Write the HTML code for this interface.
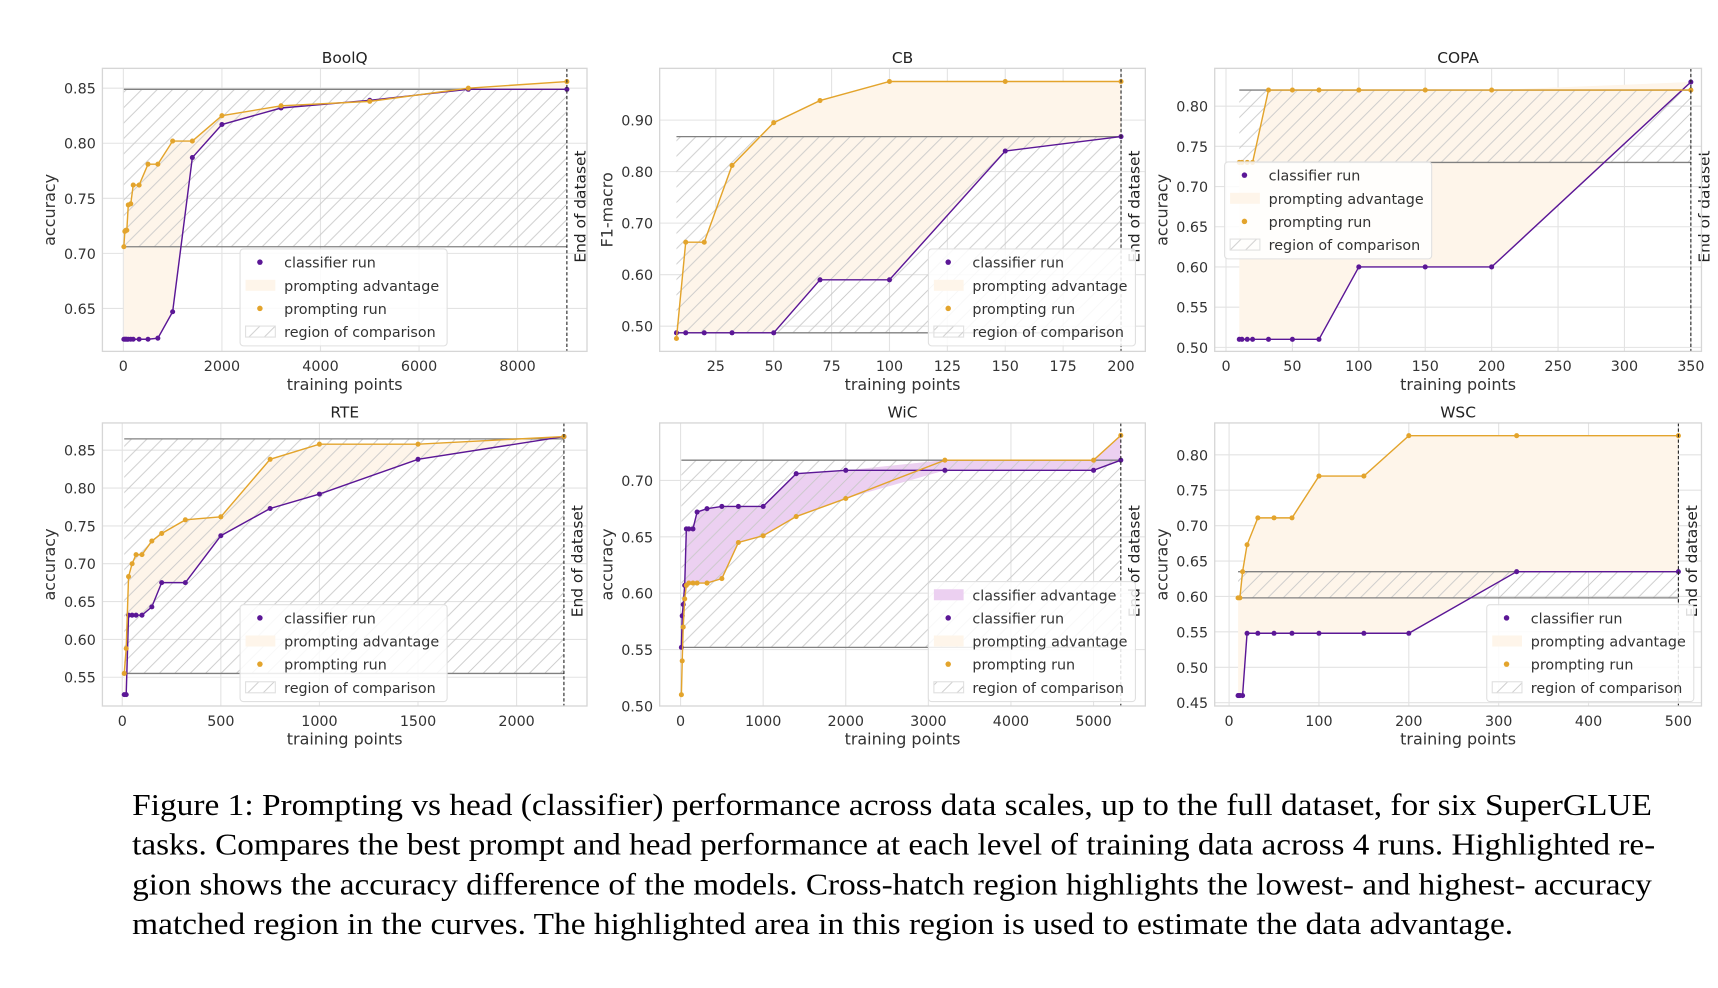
<!DOCTYPE html>
<html><head><meta charset="utf-8">
<style>
html,body{margin:0;padding:0;background:#fff;}
svg{display:block;}
text{font-family:"DejaVu Sans","Liberation Sans",sans-serif;}
.cap{font-family:"Liberation Serif",serif;font-size:28px;fill:#000;}
</style></head>
<body>
<svg id="fig" width="1718" height="988" viewBox="0 0 1560 897" xmlns="http://www.w3.org/2000/svg">
<defs>
<pattern id="hatch" patternUnits="userSpaceOnUse" width="14" height="14">
<path d="M-1,15 L15,-1 M-8,8 L8,-8 M6,22 L22,6" stroke="#c8c8c8" stroke-width="0.8"/>
</pattern>
</defs>
<g id="panels"></g>
<g>
<text class="cap" x="120" y="740" textLength="1380" lengthAdjust="spacingAndGlyphs">Figure 1: Prompting vs head (classifier) performance across data scales, up to the full dataset, for six SuperGLUE</text>
<text class="cap" x="120" y="776" textLength="1383" lengthAdjust="spacingAndGlyphs">tasks. Compares the best prompt and head performance at each level of training data across 4 runs. Highlighted re-</text>
<text class="cap" x="120" y="812" textLength="1380" lengthAdjust="spacingAndGlyphs">gion shows the accuracy difference of the models. Cross-hatch region highlights the lowest- and highest- accuracy</text>
<text class="cap" x="120" y="848" textLength="1254" lengthAdjust="spacingAndGlyphs">matched region in the curves. The highlighted area in this region is used to estimate the data advantage.</text>
</g>
</svg>
<script>
// ---- data ----
const boolqX = [10,30,50,70,100,150,200,320,500,700,1000,1400,2000,3200,5000,7000,9000];
const boolqClassifier = [0.622,0.622,0.622,0.622,0.622,0.622,0.622,0.622,0.622,0.623,0.647,0.787,0.817,0.832,0.839,0.849,0.849];
const boolqPrompt = [0.706,0.720,0.721,0.721,0.744,0.745,0.762,0.762,0.781,0.781,0.802,0.802,0.825,0.834,0.838,0.850,0.856];
const boolqXTicks = [0,2000,4000,6000,8000];
const boolqYTicks = [0.65,0.70,0.75,0.80,0.85];

const cbX = [8,12,20,32,50,70,100,150,200];
const cbClassifier = [0.487,0.487,0.487,0.487,0.487,0.590,0.590,0.840,0.868];
const cbPrompt = [0.476,0.663,0.663,0.812,0.895,0.938,0.975,0.975,0.975];
const cbXTicks = [25,50,75,100,125,150,175,200];
const cbYTicks = [0.50,0.60,0.70,0.80,0.90];

const copaX = [10,12,16,20,32,50,70,100,150,200,350];
const copaClassifier = [0.51,0.51,0.51,0.51,0.51,0.51,0.51,0.60,0.60,0.60,0.83];
const copaPrompt = [0.73,0.73,0.73,0.73,0.82,0.82,0.82,0.82,0.82,0.82,0.82];
const copaXTicks = [0,50,100,150,200,250,300,350];
const copaYTicks = [0.50,0.55,0.60,0.65,0.70,0.75,0.80];

const rteX = [10,20,32,50,70,100,150,200,320,500,750,1000,1500,2240];
const rteClassifier = [0.527,0.527,0.632,0.632,0.632,0.632,0.643,0.675,0.675,0.737,0.773,0.792,0.838,0.868];
const rtePrompt = [0.555,0.588,0.683,0.700,0.712,0.712,0.730,0.740,0.758,0.762,0.838,0.858,0.858,0.868];
const rteXTicks = [0,500,1000,1500,2000];
const rteYTicks = [0.55,0.60,0.65,0.70,0.75,0.80,0.85];

const wicX = [10,20,32,50,70,100,150,200,320,500,700,1000,1400,2000,3200,5000,5330];
const wicClassifier = [0.552,0.580,0.590,0.607,0.657,0.657,0.657,0.672,0.675,0.677,0.677,0.677,0.706,0.709,0.709,0.709,0.718];
const wicPrompt = [0.510,0.540,0.570,0.595,0.607,0.609,0.609,0.609,0.609,0.613,0.645,0.651,0.668,0.684,0.718,0.718,0.740];
const wicXTicks = [0,1000,2000,3000,4000,5000];
const wicYTicks = [0.50,0.55,0.60,0.65,0.70];

const wscX = [10,12,15,20,32,50,70,100,150,200,320,500];
const wscClassifier = [0.46,0.46,0.46,0.548,0.548,0.548,0.548,0.548,0.548,0.548,0.635,0.635];
const wscPrompt = [0.598,0.598,0.635,0.673,0.711,0.711,0.711,0.770,0.770,0.827,0.827,0.827];
const wscXTicks = [0,100,200,300,400,500];
const wscYTicks = [0.45,0.50,0.55,0.60,0.65,0.70,0.75,0.80];

const PURPLE="#5b1796", GOLD="#e3a42c", PFILL="#fef5ea", CFILL="#ecd0f1";
const NS="http://www.w3.org/2000/svg";
const root=document.getElementById('panels');
function mk(tag,attrs,parent){const e=document.createElementNS(NS,tag);for(const k in attrs)e.setAttribute(k,attrs[k]);(parent||root).appendChild(e);return e;}
function fmtY(v){return v.toFixed(2);}

const panels=[
 {name:'boolq',title:'BoolQ',box:[93,62,533,319],xr:[-425,9408],yr:[0.611,0.868],x:boolqX,c:boolqClassifier,p:boolqPrompt,xt:boolqXTicks,yt:boolqYTicks,yl:'accuracy',lo:0.706,hi:0.849,end:9000,leg:[218,226],ca:false},
 {name:'cb',title:'CB',box:[599,62,1040,319],xr:[0.75,210.5],yr:[0.451,1.0005],x:cbX,c:cbClassifier,p:cbPrompt,xt:cbXTicks,yt:cbYTicks,yl:'F1-macro',lo:0.487,hi:0.868,end:200,leg:[843,226],ca:false},
 {name:'copa',title:'COPA',box:[1103,62,1545,319],xr:[-8.5,358],yr:[0.495,0.847],x:copaX,c:copaClassifier,p:copaPrompt,xt:copaXTicks,yt:copaYTicks,yl:'accuracy',lo:0.73,hi:0.82,end:350,leg:[1112,147],ca:false},
 {name:'rte',title:'RTE',box:[93,384,533,641],xr:[-100.6,2357],yr:[0.512,0.886],x:rteX,c:rteClassifier,p:rtePrompt,xt:rteXTicks,yt:rteYTicks,yl:'accuracy',lo:0.555,hi:0.865,end:2240,leg:[218,549],ca:false},
 {name:'wic',title:'WiC',box:[599,384,1040,641],xr:[-253,5627],yr:[0.5,0.751],x:wicX,c:wicClassifier,p:wicPrompt,xt:wicXTicks,yt:wicYTicks,yl:'accuracy',lo:0.552,hi:0.718,end:5330,leg:[843,528],ca:true},
 {name:'wsc',title:'WSC',box:[1103,384,1545,641],xr:[-16,525.7],yr:[0.4453,0.845],x:wscX,c:wscClassifier,p:wscPrompt,xt:wscXTicks,yt:wscYTicks,yl:'accuracy',lo:0.598,hi:0.635,end:500,leg:[1350,549],ca:false}
];

panels.forEach(P=>{
 const [L,T,R,B]=P.box;
 const sx=v=>L+(v-P.xr[0])/(P.xr[1]-P.xr[0])*(R-L);
 const sy=v=>B-(v-P.yr[0])/(P.yr[1]-P.yr[0])*(B-T);
 const g=mk('g',{});
 
 
 const cp=mk('clipPath',{id:'clip-'+P.name},g);mk('rect',{x:L,y:T,width:R-L,height:B-T},cp);
 P.xt.forEach(t=>{mk('line',{x1:sx(t),x2:sx(t),y1:T,y2:B,stroke:'#e3e3e3','stroke-width':1},g);
  const tx=mk('text',{x:sx(t),y:B+18,'text-anchor':'middle','font-size':13,fill:'#333'},g);tx.textContent=t;
  
  });
 P.yt.forEach(t=>{mk('line',{x1:L,x2:R,y1:sy(t),y2:sy(t),stroke:'#e3e3e3','stroke-width':1},g);
  const tx=mk('text',{x:L-6,y:sy(t)+5,'text-anchor':'end','font-size':13,fill:'#333'},g);tx.textContent=fmtY(t);
  
  });
 const cg=mk('g',{'clip-path':'url(#clip-'+P.name+')'},g);
 const n=P.x.length;
 let up=[],lo=[],cup=[];
 for(let i=0;i<n;i++){up.push(sx(P.x[i])+','+sy(Math.max(P.p[i],P.c[i])));lo.push(sx(P.x[i])+','+sy(P.c[i]));cup.push(sx(P.x[i])+','+sy(Math.max(P.p[i],P.c[i])));}
 const pf=mk('polygon',{points:up.concat(lo.slice().reverse()).join(' '),fill:PFILL},cg);
 
 
 if(P.ca){const pl=[];for(let i=0;i<n;i++)pl.push(sx(P.x[i])+','+sy(Math.min(P.p[i],P.c[i])));
  const cf=mk('polygon',{points:cup.concat(pl.reverse()).join(' '),fill:CFILL},cg);
  
  }
 const rg=mk('rect',{x:sx(P.x[0]),y:sy(P.hi),width:sx(P.end)-sx(P.x[0]),height:sy(P.lo)-sy(P.hi),fill:'url(#hatch)'},cg);
 
 
 [P.lo,P.hi].forEach(v=>mk('line',{x1:sx(P.x[0]),x2:sx(P.end),y1:sy(v),y2:sy(v),stroke:'#808080','stroke-width':1.2},cg));
 [[P.c,PURPLE,'classifier'],[P.p,GOLD,'prompting']].forEach(([ys,col,nm])=>{
  const pts=ys.map((v,i)=>sx(P.x[i])+','+sy(v)).join(' ');
  const pl=mk('polyline',{points:pts,fill:'none',stroke:col,'stroke-width':1.3},cg);
  
  
  ys.forEach((v,i)=>{const c=mk('circle',{cx:sx(P.x[i]),cy:sy(v),r:2.3,fill:col},cg);
   
   });
 });
 mk('line',{x1:sx(P.end),x2:sx(P.end),y1:T,y2:B,stroke:'#222','stroke-width':1,'stroke-dasharray':'3,2'},g);
 const et=mk('text',{x:0,y:0,'font-size':14,fill:'#222','text-anchor':'middle',transform:`translate(${sx(P.end)+17},${(T+B)/2-3}) rotate(-90)`},g);
 et.textContent='End of dataset';
 
 
 mk('rect',{x:L,y:T,width:R-L,height:B-T,fill:'none',stroke:'#d6d6d6','stroke-width':1.2},g);
 const tt=mk('text',{x:(L+R)/2,y:T-5,'text-anchor':'middle','font-size':14,fill:'#222'},g);tt.textContent=P.title;
 
 
 const xl=mk('text',{x:(L+R)/2,y:B+35,'text-anchor':'middle','font-size':14.5,fill:'#333'},g);xl.textContent='training points';
 
 
 const yl=mk('text',{x:0,y:0,'text-anchor':'middle','font-size':14.5,fill:'#333',transform:`translate(${L-43},${(T+B)/2}) rotate(-90)`},g);yl.textContent=P.yl;
 
 
 const entries=(P.ca?[['ca','classifier advantage']]:[]).concat([['cr','classifier run'],['pa','prompting advantage'],['pr','prompting run'],['rc','region of comparison']]);
 const [lx,ly]=P.leg;
 const lg=mk('g',{},g);
 
 
 mk('rect',{x:lx,y:ly,width:188,height:entries.length*21+4,rx:3,fill:'#fff','fill-opacity':0.85,stroke:'#e0e0e0'},lg);
 entries.forEach((e,i)=>{const cy=ly+12+i*21;
  if(e[0]==='cr')mk('circle',{cx:lx+18,cy:cy,r:2.5,fill:PURPLE},lg);
  if(e[0]==='pr')mk('circle',{cx:lx+18,cy:cy,r:2.5,fill:GOLD},lg);
  if(e[0]==='pa')mk('rect',{x:lx+5,y:cy-5,width:27,height:10,fill:PFILL},lg);
  if(e[0]==='ca')mk('rect',{x:lx+5,y:cy-5,width:27,height:10,fill:CFILL},lg);
  if(e[0]==='rc')mk('rect',{x:lx+5,y:cy-5,width:27,height:10,fill:'url(#hatch)',stroke:'#e0e0e0'},lg);
  const t=mk('text',{x:lx+40,y:cy+5,'font-size':13,fill:'#333'},lg);t.textContent=e[1];
  
  
 });
});
</script>
</body></html>
